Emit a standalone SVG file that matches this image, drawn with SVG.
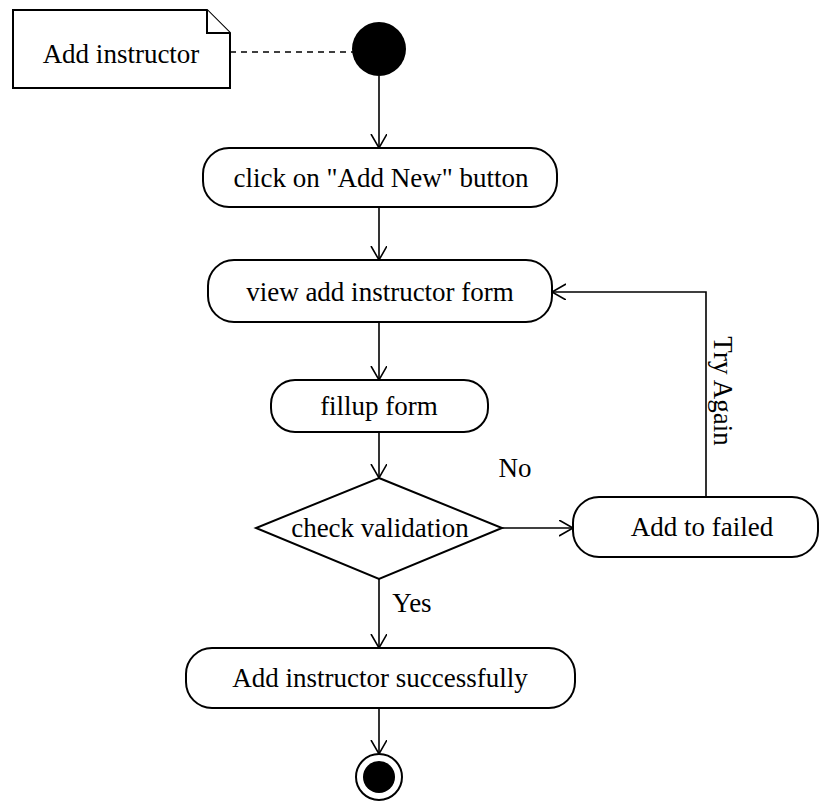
<svg xmlns="http://www.w3.org/2000/svg" width="821" height="804" viewBox="0 0 821 804">
<style>
.box{fill:#fff;stroke:#000;stroke-width:2}
.ln{fill:none;stroke:#000;stroke-width:1.6}
.t{font-family:"Liberation Serif","Times New Roman",serif;font-size:27px;fill:#000;text-anchor:middle;dominant-baseline:central}
</style>
<defs>
<marker id="arr" markerWidth="20" markerHeight="20" refX="14" refY="8" orient="auto" markerUnits="userSpaceOnUse">
<path d="M0,0 L14,8 L0,16" fill="none" stroke="#000" stroke-width="1.6"/>
</marker>
</defs>
<rect width="821" height="804" fill="#fff"/>
<g id="connectors">
<line class="ln" x1="230" y1="52" x2="353" y2="52" stroke-dasharray="6,5"/>
<line class="ln" x1="379" y1="76" x2="379" y2="148" marker-end="url(#arr)"/>
<line class="ln" x1="379" y1="207" x2="379" y2="260" marker-end="url(#arr)"/>
<line class="ln" x1="379" y1="322" x2="379" y2="380" marker-end="url(#arr)"/>
<line class="ln" x1="379" y1="432" x2="379" y2="478" marker-end="url(#arr)"/>
<line class="ln" x1="502" y1="528" x2="573" y2="528" marker-end="url(#arr)"/>
<polyline class="ln" points="706,497 706,292 552,292" marker-end="url(#arr)"/>
<line class="ln" x1="379" y1="579" x2="379" y2="648" marker-end="url(#arr)"/>
<line class="ln" x1="379" y1="708" x2="379" y2="754" marker-end="url(#arr)"/>
<text class="t" x="515" y="468">No</text>
<text class="t" x="412" y="603">Yes</text>
<text class="t" transform="translate(723,391) rotate(90)">Try Again</text>
</g>
<g id="note">
<path class="box" d="M13,10 L207,10 L230,33 L230,88 L13,88 Z"/>
<path class="box" d="M207,10 L207,33 L230,33" fill="none"/>
<text class="t" x="121" y="54">Add instructor</text>
</g>
<g id="start">
<circle cx="379" cy="49" r="27" fill="#000"/>
</g>
<g id="click">
<rect class="box" x="203" y="148" width="354" height="59" rx="26"/>
<text class="t" x="381" y="178">click on "Add New" button</text>
</g>
<g id="view">
<rect class="box" x="208" y="260" width="344" height="62" rx="26"/>
<text class="t" x="380" y="292">view add instructor form</text>
</g>
<g id="fillup">
<rect class="box" x="271" y="380" width="217" height="52" rx="24"/>
<text class="t" x="379" y="406">fillup form</text>
</g>
<g id="check">
<polygon class="box" points="379,478 502,528 379,579 256,528"/>
<text class="t" x="380" y="528">check validation</text>
</g>
<g id="failed">
<rect class="box" x="573" y="497" width="245" height="60" rx="26"/>
<text class="t" x="702" y="527">Add to failed</text>
</g>
<g id="success">
<rect class="box" x="186" y="648" width="389" height="60" rx="26"/>
<text class="t" x="380" y="678">Add instructor successfully</text>
</g>
<g id="end">
<circle cx="379" cy="777" r="23" fill="#fff" stroke="#000" stroke-width="2"/>
<circle cx="379" cy="777" r="16" fill="#000"/>
</g>
</svg>
